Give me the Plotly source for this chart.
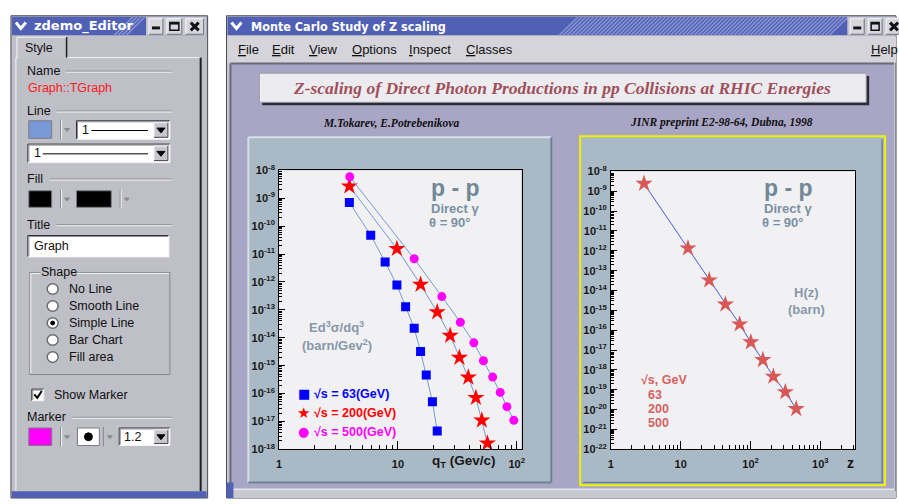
import plotly.graph_objects as go

W, H = 899, 504

# ---------------- data ----------------
# Invariant cross section Ed^3sigma/dq^3 (barn/GeV^2) vs q_T (GeV/c)
qt_63 = [3.9, 5.9, 7.8, 9.8, 11.6, 13.7, 15.5, 17.3, 19.5, 21.4]
cs_63 = [7.1e-10, 4.7e-11, 5.2e-12, 7.8e-13, 1.3e-13, 2.2e-14, 3.2e-15, 4.6e-16, 5.1e-17, 4.6e-18]
qt_200 = [3.9, 9.8, 15.5, 21.4, 27.5, 32.9, 39.1, 45.3, 50.8, 56.6]
cs_200 = [2.7e-9, 1.55e-11, 8.1e-13, 8.3e-14, 1.2e-14, 1.95e-15, 3.8e-16, 7.1e-17, 1.1e-17, 1.66e-18]
qt_500 = [3.93, 13.7, 23.4, 33.5, 43.5, 52.4, 62.7, 72.6, 82.6, 94.4]
cs_500 = [5.9e-9, 6.8e-12, 3.0e-13, 3.6e-14, 6.6e-15, 1.5e-15, 3.9e-16, 1.1e-16, 3.4e-17, 1.1e-17]
# Scaling function H(z) (barn)
z_vals = [2.98, 12.7, 25.6, 43.6, 69.8, 101, 150, 212, 315, 451]
hz_vals = [2.4e-9, 1.35e-12, 3.3e-14, 2.0e-15, 2.0e-16, 2.5e-17, 3.2e-18, 4.7e-19, 7.8e-20, 1.1e-20]

energies = ["63", "200", "500"]
menu_items = ["File", "Edit", "View", "Options", "Inspect", "Classes"]
shape_options = ["No Line", "Smooth Line", "Simple Line", "Bar Chart", "Fill area"]

left_x_tickvals = [1, 10, 100]
left_x_ticktext = ["1", "10", "10<sup>2</sup>"]
right_x_tickvals = [1, 10, 100, 1000]
right_x_ticktext = ["1", "10", "10<sup>2</sup>", "10<sup>3</sup>"]
left_y_exps = list(range(-18, -7))
right_y_exps = list(range(-22, -7))

SANS = "Liberation Sans, Arial, sans-serif"
SERIF = "Liberation Serif, Times New Roman, serif"
DEJA = "DejaVu Sans, sans-serif"

shapes, ann = [], []


def px(x):
    return x / W


def py(y):
    return 1 - y / H


def rect(x0, y0, x1, y1, fill, line=None, lw=0):
    shapes.append(dict(type="rect", xref="paper", yref="paper",
                       x0=px(x0), x1=px(x1), y0=py(y1), y1=py(y0),
                       fillcolor=fill, line=dict(color=line or fill, width=lw),
                       layer="below"))


def seg(x0, y0, x1, y1, color, w=1):
    shapes.append(dict(type="line", xref="paper", yref="paper",
                       x0=px(x0), y0=py(y0), x1=px(x1), y1=py(y1),
                       line=dict(color=color, width=w), layer="below"))


def poly(pts, color, w=1, fill=None, closed=True):
    d = "M " + " L ".join(f"{px(a):.5f},{py(b):.5f}" for a, b in pts)
    if closed:
        d += " Z"
    shapes.append(dict(type="path", xref="paper", yref="paper", path=d,
                       fillcolor=fill if fill else "rgba(0,0,0,0)",
                       line=dict(color=color, width=w), layer="below"))


def circle(cx, cy, r, fill, line, lw=1):
    shapes.append(dict(type="circle", xref="paper", yref="paper",
                       x0=px(cx - r), x1=px(cx + r), y0=py(cy + r), y1=py(cy - r),
                       fillcolor=fill, line=dict(color=line, width=lw), layer="below"))


def text(x, y, s, size=12, color="#101010", family=SANS, weight="normal",
         style="normal", xa="left", ya="middle", bg=None):
    a = dict(xref="paper", yref="paper", x=px(x), y=py(y), text=s, showarrow=False,
             xanchor=xa, yanchor=ya, borderpad=0,
             font=dict(family=family, size=size, color=color, weight=weight, style=style))
    if bg:
        a["bgcolor"] = bg
    ann.append(a)


def bevel(x0, y0, x1, y1, tl, br, w=1):
    seg(x0, y0, x1, y0, tl, w)
    seg(x0, y0, x0, y1, tl, w)
    seg(x0, y1, x1, y1, br, w)
    seg(x1, y0, x1, y1, br, w)


def etched(x0, x1, y):
    seg(x0, y, x1, y, "#85858d")
    seg(x0, y + 1, x1, y + 1, "#f4f4f8")


def arrow_button(x0, y0, x1, y1):
    rect(x0, y0, x1, y1, "#c6c6ce")
    bevel(x0, y0, x1, y1, "#f4f4f8", "#404048")
    cx, cy = (x0 + x1) / 2, (y0 + y1) / 2
    poly([(cx - 4, cy - 2), (cx + 4, cy - 2), (cx, cy + 3)], "#000000", 1, "#000000")


def sunken(x0, y0, x1, y1, fill="#ffffff"):
    rect(x0, y0, x1, y1, fill)
    bevel(x0, y0, x1, y1, "#303038", "#f4f4f8")
    seg(x0 + 1, y0 + 1, x1 - 1, y0 + 1, "#8a8a92")
    seg(x0 + 1, y0 + 1, x0 + 1, y1 - 1, "#8a8a92")


def color_picker(x0, y0, x1, y1, fill):
    rect(x0, y0, x1, y1, fill, "#7a7a82", 1)
    xs = x1 + 9
    seg(xs, y0 - 1, xs, y1 + 1, "#85858d")
    seg(xs + 1, y0 - 1, xs + 1, y1 + 1, "#f4f4f8")
    cy = (y0 + y1) / 2
    poly([(xs + 4, cy - 1), (xs + 9, cy - 1), (xs + 6.5, cy + 2)], "#8a8a92", 1, "#8a8a92")


def title_bar(x0, x1, hatch0, hatch1):
    rect(x0, 9, x1, 28, "#5060b4")
    x = hatch0
    while x < hatch1:
        seg(x, 28, x + 19, 9, "#8893d2", 1.6)
        x += 4
    # window menu chevron
    poly([(x0 + 4, 15), (x0 + 9, 21), (x0 + 14, 15)], "#ffffff", 3, closed=False)


def title_buttons(xs, y0=11, y1=27):
    # minimise, maximise, close
    (a0, a1), (b0, b1), (c0, c1) = xs
    for u0, u1 in xs:
        rect(u0, y0, u1, y1, "#d6d6dc")
        bevel(u0, y0, u1, y1, "#f6f6fa", "#707078")
    rect(a0 + 3, y1 - 8, a1 - 3, y1 - 5, "#101018")
    rect(b0 + 3, y0 + 4, b1 - 3, y1 - 4, "rgba(0,0,0,0)", "#101018", 1.5)
    seg(b0 + 3, y0 + 5, b1 - 3, y0 + 5, "#101018", 2)
    cx = (c0 + c1) / 2
    seg(cx - 4, y0 + 4, cx + 4, y1 - 4, "#101018", 3)
    seg(cx - 4, y1 - 4, cx + 4, y0 + 4, "#101018", 3)


# ---------------- editor window ----------------
rect(8, 8, 206, 504, "#bfbfc7", "#4a4a52", 1)
title_bar(9, 205, 112, 127)
rect(144, 9, 205, 28, "#c8c8d0")
title_buttons([(147, 161), (165, 180), (184, 202)])
text(30, 19, "zdemo_Editor", 13, "#ffffff", DEJA, "bold")

# tab and panel
rect(13, 51, 200, 497, "#bfbfc7")
seg(13, 51, 200, 51, "#f4f4f8")
seg(13, 51, 13, 497, "#f4f4f8")
seg(199, 51, 199, 497, "#202028", 2)
rect(14, 30, 64, 52, "#c2c2ca")
seg(14, 30, 64, 30, "#f4f4f8")
seg(14, 30, 14, 52, "#f4f4f8")
seg(64, 30, 64, 51, "#202028", 1.5)
text(21, 41, "Style", 12.5)

text(23, 65, "Name", 12.5)
etched(63, 170, 65)
text(24, 82, "Graph::TGraph", 12.5, "#ff1a1a")

text(23, 106, "Line", 12.5)
etched(54, 170, 106)
color_picker(26, 116, 49, 134, "#7898d8")
sunken(74, 116, 168, 135)
text(79, 125.5, "1", 12.5)
seg(89, 126, 146, 126, "#000000", 1)
arrow_button(152, 118, 166, 133)
sunken(25, 140, 168, 159)
text(30, 149.5, "1", 12.5)
seg(40, 150, 146, 150, "#000000", 1)
arrow_button(152, 142, 166, 157)

text(23, 176, "Fill", 12.5)
etched(47, 170, 176)
color_picker(26, 188, 49, 205, "#000000")
color_picker(74, 188, 109, 205, "#000000")

text(23, 223, "Title", 12.5)
etched(54, 170, 223)
sunken(25, 234, 167, 256)
text(30, 245, "Graph", 12.5)

# shape group
rect(27, 272, 168, 377, "rgba(0,0,0,0)", "#85858d", 1)
seg(28, 273, 167, 273, "#f4f4f8")
seg(28, 273, 28, 376, "#f4f4f8")
text(37, 272, "Shape", 12.5, bg="#bfbfc7")
for i, opt in enumerate(shape_options):
    cy = 289 + i * 17.5
    circle(50, cy, 5.5, "#ffffff", "#6a6a72", 1.5)
    if opt == "Simple Line":
        circle(50, cy, 2, "#000000", "#000000", 1)
    text(65, cy, opt, 12.5)

sunken(29, 392, 41, 404)
poly([(31.5, 397.5), (34.5, 401), (39, 394)], "#000000", 2, closed=False)
text(50, 398, "Show Marker", 12.5)

text(23, 421, "Marker", 12.5)
etched(70, 170, 421)
color_picker(26, 432, 49, 450, "#ff00ff")
rect(75, 432, 97, 450, "#ffffff", "#7a7a82", 1)
circle(86, 441, 4, "#000000", "#000000", 1)
seg(101, 431, 101, 451, "#85858d")
poly([(105, 440), (110, 440), (107.5, 443)], "#8a8a92", 1, "#8a8a92")
sunken(117, 432, 168, 450)
text(121, 441, "1.2", 12.5)
arrow_button(152, 434, 166, 448)
rect(9, 497, 205, 504, "#5060b4")

# ---------------- main window ----------------
rect(225, 8, 899, 504, "#c8c8d0", "#4a4a52", 1)
title_bar(226, 899, 560, 835)
rect(850, 9, 899, 28, "#c8c8d0")
title_buttons([(853, 867), (871, 885), (889, 905)])
text(249, 19, "Monte Carlo Study of Z scaling", 12.5, "#ffffff",
     "DejaVu Sans Condensed, DejaVu Sans, sans-serif", "bold")

rect(226, 29, 899, 56, "#d4d4da")
menu_x = [236, 270, 307, 350, 408, 465]
for mx, item in zip(menu_x, menu_items):
    text(mx, 43, f"<span style='text-decoration:underline'>{item[0]}</span>{item[1:]}", 13)
text(873, 43, "<span style='text-decoration:underline'>H</span>elp", 13)

# canvas
rect(229, 57, 897, 495, "#a9a5c5")
seg(229, 57, 897, 57, "#6a6a78", 2)
seg(229, 57, 229, 495, "#6a6a78", 2)
seg(229, 495, 897, 495, "#e6e6ee", 1.5)
rect(226, 497, 899, 504, "#c8c8d0")
rect(225, 488, 232, 504, "#5060b4")

# heading box
rect(261, 70, 872, 100, "#2c2c34")
rect(258, 67, 869, 97, "#ececf0", "#9a9aa4", 1)
text(563, 82, "Z-scaling of Direct Photon Productions in pp Collisions at RHIC Energies",
     17.5, "#a0505a", SERIF, "bold", "italic", xa="center")
text(391, 118, "M.Tokarev, E.Potrebenikova", 11.5, "#101010", SERIF, "bold", "italic", xa="center")
text(723, 118, "JINR preprint E2-98-64, Dubna, 1998", 11.5, "#101010", SERIF, "bold", "italic", xa="center")

# pads
PAD = "#a9b9c5"
rect(247, 133, 553, 489, PAD)
bevel(247, 133, 552, 488, "#d6e0e8", "#6c8292", 2)
rect(581, 132, 888, 491, PAD, "#f2f200", 2)
seg(584, 488, 886, 488, "#6c8292", 1.5)
seg(885, 135, 885, 488, "#6c8292", 1.5)

# plot frames
PLOT_BG = "#f1f1f4"
rect(278, 167, 522, 454, PLOT_BG)
rect(612, 168, 858, 454, PLOT_BG)

# ---------------- traces ----------------
LINE_L = "#7898cc"
fig = go.Figure()
fig.add_trace(go.Scatter(x=qt_63, y=cs_63, mode="lines+markers", xaxis="x", yaxis="y",
                         line=dict(color=LINE_L, width=1),
                         marker=dict(symbol="square", size=9, color="#0000ff")))
fig.add_trace(go.Scatter(x=qt_200, y=cs_200, mode="lines+markers", xaxis="x", yaxis="y",
                         line=dict(color=LINE_L, width=1),
                         marker=dict(symbol="star", size=13, color="#ff0000")))
fig.add_trace(go.Scatter(x=qt_500, y=cs_500, mode="lines+markers", xaxis="x", yaxis="y",
                         line=dict(color=LINE_L, width=1),
                         marker=dict(symbol="circle", size=9, color="#ff00ff")))
fig.add_trace(go.Scatter(x=z_vals, y=hz_vals, mode="lines+markers", xaxis="x2", yaxis="y2",
                         line=dict(color="#4858dc", width=1),
                         marker=dict(symbol="star", size=13, color="#d85858")))


def minor_vals(lo, hi):
    return [m * 10.0 ** k for k in range(lo, hi) for m in range(2, 10)]


TICKFONT = dict(family=SANS, size=11, color="#181818", weight="bold")
common = dict(type="log", showline=True, linecolor="#000000", linewidth=1, mirror=True,
              ticks="inside", tickcolor="#000000", showgrid=False, zeroline=False,
              tickmode="array", tickfont=TICKFONT)

fig.update_layout(
    width=W, height=H, margin=dict(l=0, r=0, t=0, b=0),
    paper_bgcolor="#ffffff", plot_bgcolor="rgba(0,0,0,0)", showlegend=False,
    xaxis=dict(common, domain=[px(278), px(522)], anchor="y", range=[0, 2.04],
               tickvals=left_x_tickvals, ticktext=left_x_ticktext, ticklen=8,
               ticklabelstandoff=4,
               minor=dict(tickmode="array", tickvals=minor_vals(0, 3), ticks="inside",
                          ticklen=4, tickcolor="#000000", showgrid=False)),
    yaxis=dict(common, domain=[py(454), py(167)], anchor="x", range=[-18, -8],
               tickvals=[10.0 ** e for e in left_y_exps],
               ticktext=[f"10<sup>{e}</sup>" for e in left_y_exps], ticklen=6,
               ticklabelstandoff=1,
               minor=dict(tickmode="array", tickvals=minor_vals(-18, -8), ticks="inside",
                          ticklen=3, tickcolor="#000000", showgrid=False)),
    xaxis2=dict(common, domain=[px(612), px(858)], anchor="y2", range=[0, 3.5],
                tickvals=right_x_tickvals, ticktext=right_x_ticktext, ticklen=8,
                ticklabelstandoff=4,
                minor=dict(tickmode="array", tickvals=minor_vals(0, 4), ticks="inside",
                           ticklen=4, tickcolor="#000000", showgrid=False)),
    yaxis2=dict(common, domain=[py(454), py(168)], anchor="x2", range=[-22, -8],
                tickvals=[10.0 ** e for e in right_y_exps],
                ticktext=[f"10<sup>{e}</sup>" for e in right_y_exps], ticklen=6,
                ticklabelstandoff=1,
                minor=dict(tickmode="array", tickvals=minor_vals(-22, -8), ticks="inside",
                           ticklen=3, tickcolor="#000000", showgrid=False)),
)

# ---------------- plot labels ----------------
TXT = "#708898"
MID = "#7a90a4"
LIGHT = "#8898aa"
for x0 in (430, 765):
    text(x0, 185, "p - p", 23, TXT, SANS, "bold")
    text(x0, 206, "Direct γ", 13, MID, SANS, "bold")
    text(x0 - 2, 221, "θ = 90°", 13, MID, SANS, "bold")

text(336, 328, "Ed<sup>3</sup>σ/dq<sup>3</sup>", 13, LIGHT, SANS, "bold", xa="center")
text(336, 347, "(barn/Gev<sup>2</sup>)", 13, LIGHT, SANS, "bold", xa="center")

legend_cols = ["#0000ff", "#ff0000", "#ff00ff"]
legend_sym = ["■", "★", "●"]
legend_size = [13, 15, 13]
for i, (e, c) in enumerate(zip(energies, legend_cols)):
    yy = 397 + i * 19.5
    text(303, yy, legend_sym[i], legend_size[i], c, DEJA, xa="center")
    text(312, yy, f"√s = {e}(GeV)", 12.5, c, SANS, "bold")

text(464, 466, "q<sub>T</sub> (Gev/c)", 13.5, "#181818", SANS, "bold", xa="center")
text(853, 468, "z", 14, "#181818", SANS, "bold", xa="center")

text(809, 293, "H(z)", 13, LIGHT, SANS, "bold", xa="center")
text(809, 310, "(barn)", 13, LIGHT, SANS, "bold", xa="center")
RED = "#d86060"
text(641, 383, "√s, GeV", 12.5, RED, SANS, "bold")
for i, e in enumerate(energies):
    text(648, 398 + i * 14.5, e, 12.5, RED, SANS, "bold")

fig.update_layout(shapes=shapes, annotations=ann)
fig.write_html("out.html")
